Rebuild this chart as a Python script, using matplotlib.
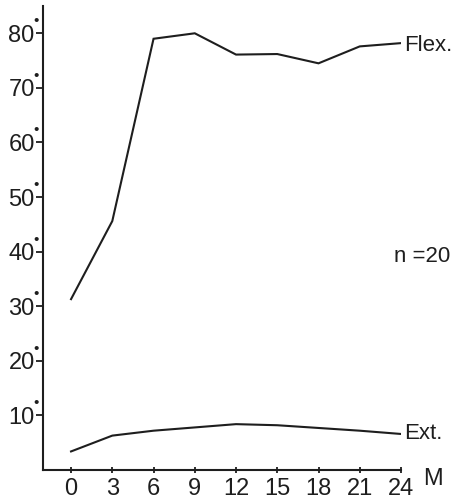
import matplotlib.pyplot as plt

# months after operation
months = [0, 3, 6, 9, 12, 15, 18, 21, 24]
# range of motion in degrees
flex = [31.3, 45.6, 79.0, 80.0, 76.1, 76.2, 74.5, 77.6, 78.2]
ext = [3.4, 6.3, 7.2, 7.8, 8.4, 8.2, 7.7, 7.2, 6.6]
yticks = [10, 20, 30, 40, 50, 60, 70, 80]
n_label = 'n =20'

plt.rcParams['font.family'] = ['Liberation Sans', 'DejaVu Sans']
ink = '#1e1e1e'

fig = plt.figure(figsize=(4.61, 5.04), dpi=100)
ax = fig.add_axes([43 / 461, 1 - 470 / 504, 358 / 461, 464 / 504])

ax.plot(months, flex, color=ink, lw=1.5, solid_joinstyle='miter')
ax.plot(months, ext, color=ink, lw=1.5, solid_joinstyle='miter')

ax.set_xlim(-2.04, 24)
ax.set_ylim(0, 85)

for s in ['top', 'right']:
    ax.spines[s].set_visible(False)
for s in ['left', 'bottom']:
    ax.spines[s].set_color(ink)
    ax.spines[s].set_linewidth(1.5)

ax.set_xticks(months)
ax.set_xticklabels([str(m) for m in months])
ax.set_yticks(yticks)
ax.set_yticklabels([str(v) for v in yticks])
ax.tick_params(axis='y', direction='out', length=5, width=1.3, pad=1,
               labelsize=17, colors=ink)
ax.tick_params(axis='x', direction='inout', length=5, width=1.3, pad=3,
               labelsize=17, colors=ink)

# degree dots on the y tick labels
for v in yticks:
    ax.annotate('\u2022', xy=(0, v), xycoords=('axes fraction', 'data'),
                xytext=(-7, 12), textcoords='offset pixels',
                ha='center', va='center', fontsize=11, color=ink)

# curve labels at the line ends
ax.annotate('Flex.', xy=(months[-1], flex[-1]), xytext=(3, -2),
            textcoords='offset pixels', ha='left', va='center',
            fontsize=16, color=ink, annotation_clip=False)
ax.annotate('Ext.', xy=(months[-1], ext[-1]), xytext=(3, 0),
            textcoords='offset pixels', ha='left', va='center',
            fontsize=16, color=ink, annotation_clip=False)
ax.text(1.06, 0.46, n_label, transform=ax.transAxes, ha='center',
        va='center', fontsize=16, color=ink)
ax.text(1.09, 0.005, 'M', transform=ax.transAxes, ha='center',
        va='top', fontsize=17, color=ink)

fig.savefig('out.png', dpi=100, facecolor='white')
